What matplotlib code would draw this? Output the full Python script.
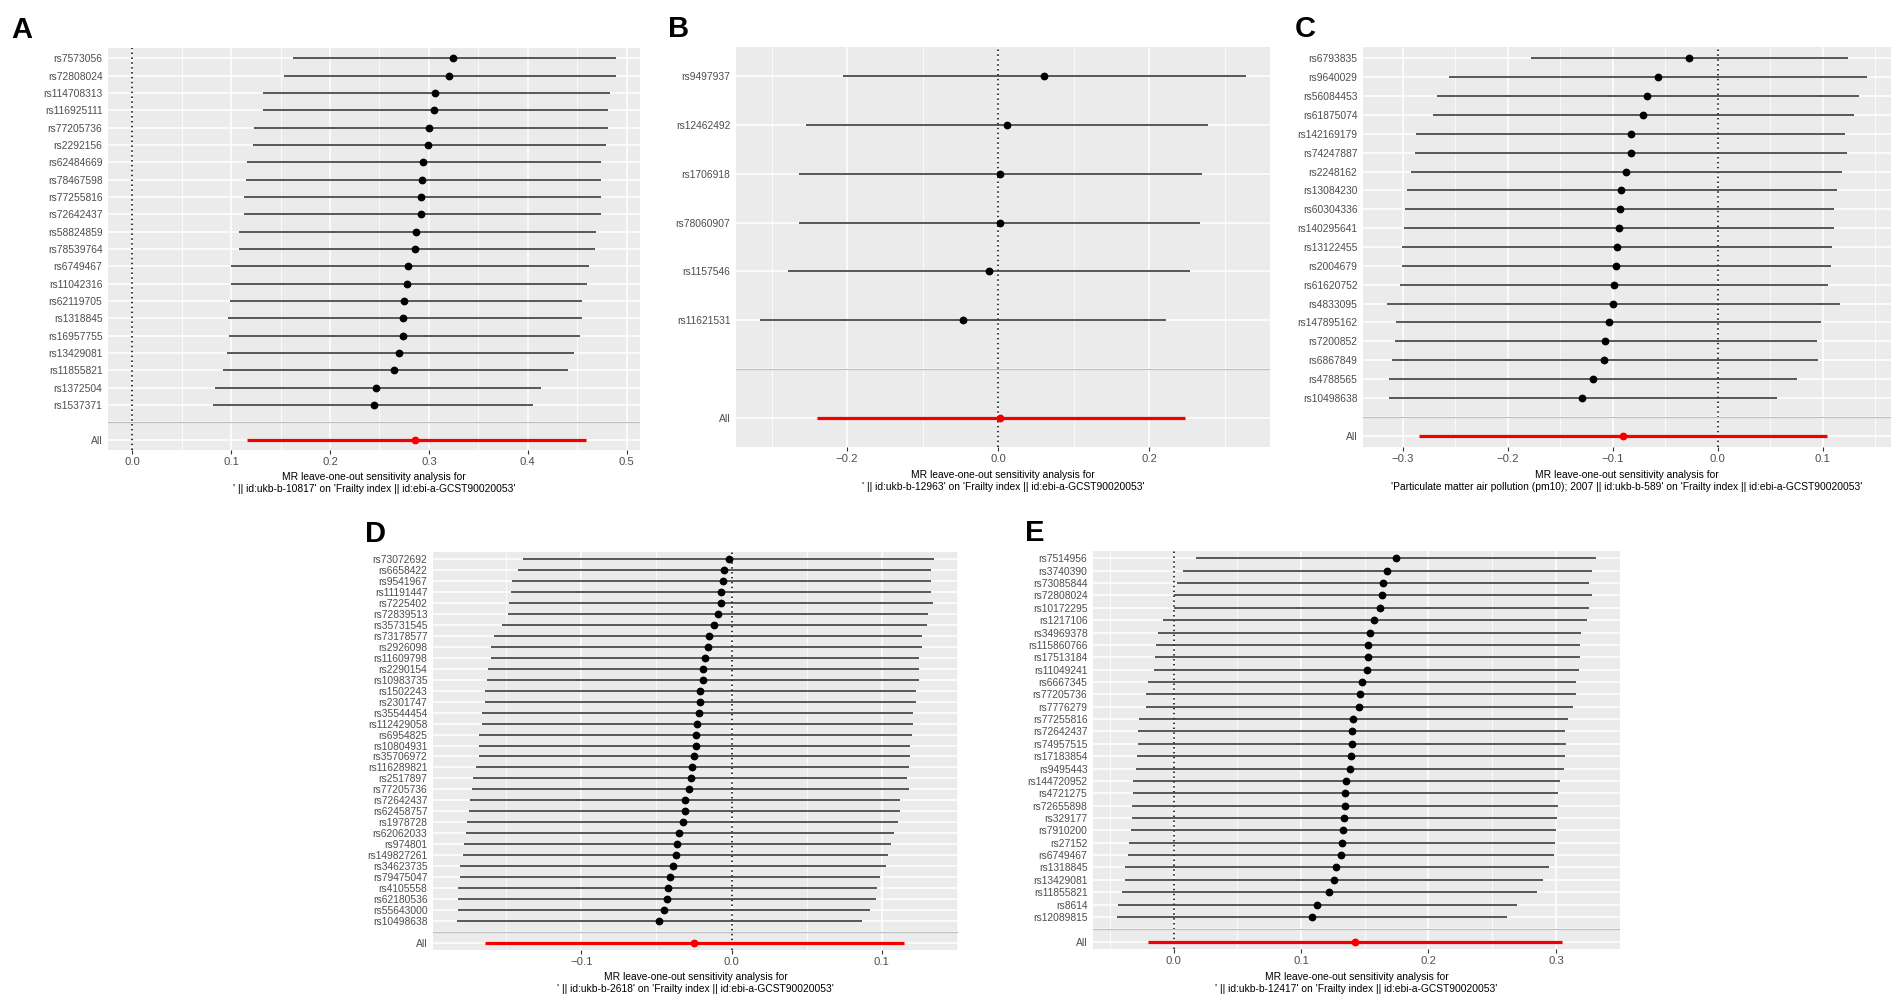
import numpy as np
import matplotlib
matplotlib.use("Agg")
import matplotlib.pyplot as plt
from matplotlib.ticker import MultipleLocator, FuncFormatter

plt.rcParams['font.family'] = ['Liberation Sans', 'DejaVu Sans']

outcome = "'Frailty index || id:ebi-a-GCST90020053'"

# panel A
a_snps = ['rs7573056', 'rs72808024', 'rs114708313', 'rs116925111', 'rs77205736', 'rs2292156',
          'rs62484669', 'rs78467598', 'rs77255816', 'rs72642437', 'rs58824859', 'rs78539764',
          'rs6749467', 'rs11042316', 'rs62119705', 'rs1318845', 'rs16957755', 'rs13429081',
          'rs11855821', 'rs1372504', 'rs1537371']
a_b = [0.324, 0.320, 0.306, 0.305, 0.300, 0.299, 0.294, 0.293, 0.292, 0.292, 0.287, 0.286,
       0.279, 0.278, 0.275, 0.274, 0.274, 0.270, 0.265, 0.247, 0.244]
a_lo = [0.163, 0.154, 0.132, 0.132, 0.123, 0.122, 0.116, 0.115, 0.113, 0.113, 0.108, 0.108,
        0.100, 0.100, 0.099, 0.097, 0.098, 0.096, 0.092, 0.084, 0.082]
a_up = [0.489, 0.489, 0.483, 0.481, 0.481, 0.479, 0.474, 0.474, 0.474, 0.474, 0.469, 0.468,
        0.462, 0.460, 0.455, 0.455, 0.453, 0.447, 0.441, 0.413, 0.405]
a_all = (0.286, 0.116, 0.459)
a_exposure = "' || id:ukb-b-10817'"

# panel B
b_snps = ['rs9497937', 'rs12462492', 'rs1706918', 'rs78060907', 'rs1157546', 'rs11621531']
b_b = [0.061, 0.012, 0.003, 0.002, -0.012, -0.047]
b_lo = [-0.205, -0.254, -0.264, -0.264, -0.278, -0.315]
b_up = [0.328, 0.278, 0.270, 0.268, 0.254, 0.222]
b_all = (0.003, -0.240, 0.247)
b_exposure = "' || id:ukb-b-12963'"

# panel C
c_snps = ['rs6793835', 'rs9640029', 'rs56084453', 'rs61875074', 'rs142169179', 'rs74247887',
          'rs2248162', 'rs13084230', 'rs60304336', 'rs140295641', 'rs13122455', 'rs2004679',
          'rs61620752', 'rs4833095', 'rs147895162', 'rs7200852', 'rs6867849', 'rs4788565',
          'rs10498638']
c_b = [-0.027, -0.057, -0.067, -0.071, -0.083, -0.083, -0.087, -0.092, -0.093, -0.094,
       -0.096, -0.097, -0.099, -0.100, -0.104, -0.107, -0.108, -0.119, -0.129]
c_lo = [-0.178, -0.256, -0.267, -0.271, -0.287, -0.288, -0.292, -0.296, -0.298, -0.299,
        -0.301, -0.301, -0.303, -0.315, -0.306, -0.307, -0.310, -0.313, -0.313]
c_up = [0.124, 0.142, 0.134, 0.130, 0.121, 0.123, 0.118, 0.113, 0.111, 0.111,
        0.109, 0.108, 0.105, 0.116, 0.098, 0.094, 0.095, 0.075, 0.056]
c_all = (-0.090, -0.285, 0.104)
c_exposure = "'Particulate matter air pollution (pm10); 2007 || id:ukb-b-589'"

# panel D
d_snps = ['rs73072692', 'rs6658422', 'rs9541967', 'rs11191447', 'rs7225402', 'rs72839513',
          'rs35731545', 'rs73178577', 'rs2926098', 'rs11609798', 'rs2290154', 'rs10983735',
          'rs1502243', 'rs2301747', 'rs35544454', 'rs112429058', 'rs6954825', 'rs10804931',
          'rs35706972', 'rs116289821', 'rs2517897', 'rs77205736', 'rs72642437', 'rs62458757',
          'rs1978728', 'rs62062033', 'rs974801', 'rs149827261', 'rs34623735', 'rs79475047',
          'rs4105558', 'rs62180536', 'rs55643000', 'rs10498638']
d_b = [-0.002, -0.005, -0.006, -0.007, -0.007, -0.009, -0.012, -0.015, -0.016, -0.018,
       -0.019, -0.019, -0.021, -0.021, -0.022, -0.023, -0.024, -0.024, -0.025, -0.026,
       -0.027, -0.028, -0.031, -0.031, -0.032, -0.035, -0.036, -0.037, -0.039, -0.041,
       -0.042, -0.043, -0.045, -0.048]
d_lo = [-0.139, -0.142, -0.146, -0.147, -0.148, -0.149, -0.153, -0.158, -0.160, -0.160,
        -0.162, -0.163, -0.164, -0.164, -0.166, -0.166, -0.168, -0.168, -0.168, -0.170,
        -0.172, -0.173, -0.174, -0.175, -0.176, -0.177, -0.178, -0.179, -0.181, -0.181,
        -0.182, -0.182, -0.182, -0.183]
d_up = [0.135, 0.133, 0.133, 0.133, 0.134, 0.131, 0.130, 0.127, 0.127, 0.125,
        0.125, 0.125, 0.123, 0.123, 0.121, 0.121, 0.120, 0.119, 0.119, 0.118,
        0.117, 0.118, 0.112, 0.112, 0.111, 0.108, 0.106, 0.104, 0.103, 0.099,
        0.097, 0.096, 0.092, 0.087]
d_all = (-0.025, -0.164, 0.115)
d_exposure = "' || id:ukb-b-2618'"

# panel E
e_snps = ['rs7514956', 'rs3740390', 'rs73085844', 'rs72808024', 'rs10172295', 'rs1217106',
          'rs34969378', 'rs115860766', 'rs17513184', 'rs11049241', 'rs6667345', 'rs77205736',
          'rs7776279', 'rs77255816', 'rs72642437', 'rs74957515', 'rs17183854', 'rs9495443',
          'rs144720952', 'rs4721275', 'rs72655898', 'rs329177', 'rs7910200', 'rs27152',
          'rs6749467', 'rs1318845', 'rs13429081', 'rs11855821', 'rs8614', 'rs12089815']
e_b = [0.1745, 0.1675, 0.1646, 0.1638, 0.1622, 0.1575, 0.1539, 0.1528, 0.1523, 0.1515,
       0.148, 0.146, 0.1455, 0.1411, 0.140, 0.1398, 0.1393, 0.1382, 0.1353, 0.1346,
       0.1343, 0.1338, 0.133, 0.132, 0.1312, 0.1277, 0.1256, 0.122, 0.1124, 0.1087]
e_lo = [0.0175, 0.0073, 0.0031, 0.0, 0.0003, -0.0086, -0.0123, -0.0136, -0.0146, -0.0154,
        -0.0201, -0.0217, -0.0219, -0.0274, -0.0277, -0.0279, -0.029, -0.0295, -0.0318, -0.0321,
        -0.0326, -0.0329, -0.0334, -0.035, -0.036, -0.0384, -0.0384, -0.0408, -0.0439, -0.0444]
e_up = [0.3315, 0.3281, 0.3258, 0.3284, 0.3258, 0.3242, 0.320, 0.3193, 0.319, 0.3185,
        0.3156, 0.3154, 0.3135, 0.3093, 0.3075, 0.3078, 0.3075, 0.306, 0.303, 0.3017,
        0.3015, 0.3007, 0.2997, 0.2991, 0.2983, 0.2942, 0.2895, 0.2848, 0.2691, 0.2615]
e_all = (0.1424, -0.0201, 0.3049)
e_exposure = "' || id:ukb-b-12417'"

W, H = 1902, 1000
fig = plt.figure(figsize=(W / 100, H / 100), dpi=100)
fig.patch.set_facecolor('white')


def minus(v, pos):
    return f"{round(v, 1) + 0.0:.1f}".replace('-', '\u2212')


def loo_panel(box, letter, snps, b, lo, up, tot, step, exposure):
    left, top, right, bottom = box
    ax = fig.add_axes([left / W, 1 - bottom / H, (right - left) / W, (bottom - top) / H])
    ax.set_facecolor('#EBEBEB')
    for s in ax.spines.values():
        s.set_visible(False)
    n = len(snps)
    ys = np.arange(n + 2, 2, -1)

    # ggplot style limits: include 0, expand 5%
    xmin = min(0, min(lo), tot[1])
    xmax = max(0, max(up), tot[2])
    pad = (xmax - xmin) * 0.05
    ax.set_xlim(xmin - pad, xmax + pad)
    ax.set_ylim(0.4, n + 2.6)

    ax.xaxis.set_major_locator(MultipleLocator(step))
    ax.xaxis.set_minor_locator(MultipleLocator(step / 2))
    ax.xaxis.set_major_formatter(FuncFormatter(minus))
    ax.set_yticks(np.arange(1, n + 3))
    ax.set_yticklabels(['All', ''] + list(snps[::-1]))

    ax.set_axisbelow(True)
    ax.grid(True, which='major', color='white', lw=1.1)
    ax.grid(True, which='minor', axis='x', color='white', lw=0.55)
    ax.tick_params(axis='y', length=0, pad=4, labelsize=7.4, labelcolor='#4D4D4D')
    ax.tick_params(axis='x', which='major', length=3, width=0.8, color='#333333',
                   pad=2, labelsize=8.1, labelcolor='#4D4D4D')
    ax.tick_params(axis='x', which='minor', length=0)

    ax.axvline(0, color='black', ls=(0, (1, 2.2)), lw=1.1, zorder=2)
    ax.axhline(2, color='#BEBEBE', lw=0.9, zorder=2)
    ax.hlines(ys, lo, up, color='#333333', lw=1.15, zorder=3)
    ax.plot(b, ys, 'o', color='black', ms=4.6, zorder=4)
    ax.hlines([1], [tot[1]], [tot[2]], color='#F20000', lw=2.3, zorder=3)
    ax.plot([tot[0]], [1], 'o', color='#F20000', ms=4.6, zorder=4)

    ax.set_xlabel("MR leave-one-out sensitivity analysis for\n" + exposure + " on " + outcome,
                  fontsize=7.4, labelpad=4, linespacing=1.25)
    fig.text((left - 97) / W if letter == 'A' else (left - 68) / W, 1 - (top - 32) / H, letter,
             fontsize=21, fontweight='bold', va='top', ha='left')
    return ax


loo_panel((108, 48, 640, 450), 'A', a_snps, a_b, a_lo, a_up, a_all, 0.1, a_exposure)
loo_panel((736, 47, 1270, 447), 'B', b_snps, b_b, b_lo, b_up, b_all, 0.2, b_exposure)
loo_panel((1363, 47, 1891, 447), 'C', c_snps, c_b, c_lo, c_up, c_all, 0.1, c_exposure)
loo_panel((433, 552, 958, 950), 'D', d_snps, d_b, d_lo, d_up, d_all, 0.1, d_exposure)
loo_panel((1093, 551, 1620, 949), 'E', e_snps, e_b, e_lo, e_up, e_all, 0.1, e_exposure)

fig.savefig('out.png', dpi=100)
